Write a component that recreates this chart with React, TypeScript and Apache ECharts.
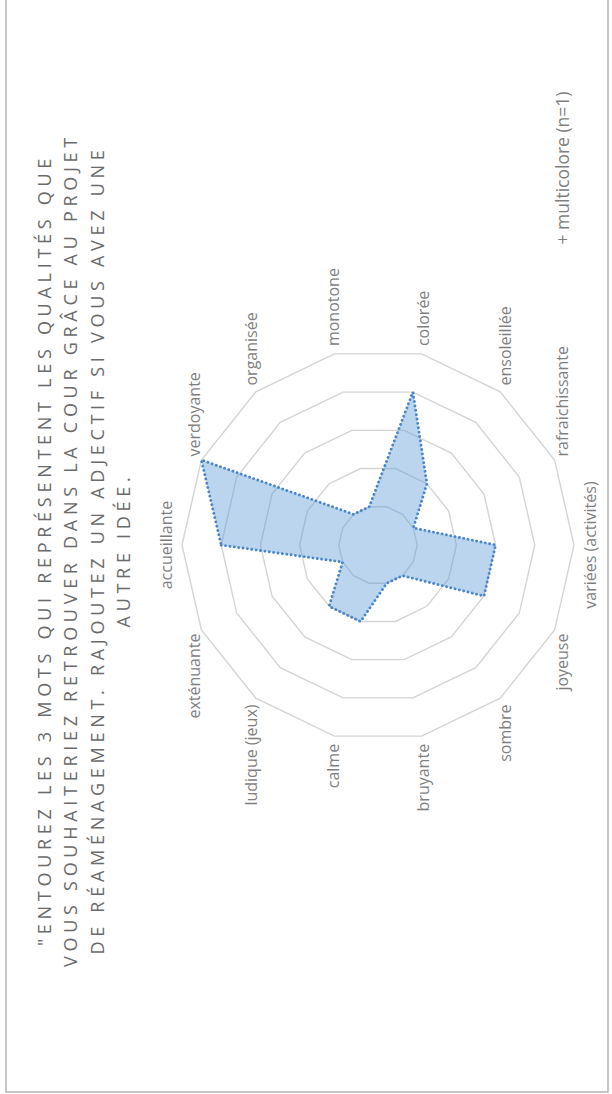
import React, { useEffect, useRef } from "react";
import * as echarts from "echarts";

// Radar categories, listed clockwise from the top axis
const categories = [
  "accueillante",
  "verdoyante",
  "organisée",
  "monotone",
  "colorée",
  "ensoleillée",
  "rafraichissante",
  "variées (activités)",
  "joyeuse",
  "sombre",
  "bruyante",
  "calme",
  "ludique (jeux)",
  "exténuante",
];

// Number of answers per quality
const responses = [4, 5, 1, 1, 4, 2, 1, 3, 3, 1, 1, 2, 2, 1];

const scaleMax = 5;
const ringCount = 5;

const titleLines = [
  '"ENTOUREZ LES 3 MOTS QUI REPRÉSENTENT LES QUALITÉS QUE',
  "VOUS SOUHAITERIEZ RETROUVER DANS LA COUR GRÂCE AU PROJET",
  "DE RÉAMÉNAGEMENT. RAJOUTEZ UN ADJECTIF SI VOUS AVEZ UNE",
  "AUTRE IDÉE.",
];

const noteText = "+ multicolore (n=1)";

// landscape canvas, rotated onto the portrait page
const W = 1094;
const H = 612;

export default function App() {
  const ref = useRef<HTMLDivElement>(null);

  useEffect(() => {
    const el = ref.current;
    if (!el) return;
    const chart = echarts.init(el, null, { renderer: "svg", width: W, height: H });
    const n = categories.length;
    // ECharts places indicators counter-clockwise, so reverse after the first one
    const order = [0, ...Array.from({ length: n - 1 }, (_, i) => n - 1 - i)];

    const titleYs = [44, 70, 97, 123];
    const gray = "#7f7f7f";

    const option: any = {
      animation: false,
      backgroundColor: "#ffffff",
      radar: {
        center: [549, 378],
        radius: 196,
        startAngle: 90,
        shape: "polygon",
        splitNumber: ringCount,
        nameGap: 8,
        indicator: order.map((i) => ({ name: categories[i], min: 0, max: scaleMax })),
        axisName: {
          color: gray,
          fontSize: 16,
          fontFamily: "Open Sans",
        },
        splitLine: { lineStyle: { color: "#d4d4d4", width: 1.4 } },
        splitArea: { show: false },
        axisLine: { show: false },
        axisTick: { show: false },
        axisLabel: { show: false },
      },
      series: [
        {
          type: "radar",
          silent: true,
          symbol: "none",
          data: [{ value: order.map((i) => responses[i]) }],
          lineStyle: { color: "#4582c9", width: 2.9, type: [0.01, 4.4], cap: "round" },
          areaStyle: { color: "rgba(91,155,213,0.6)" },
        },
      ],
      graphic: [
        {
          type: "rect",
          silent: true,
          z: -1,
          shape: { x: 2, y: 6, width: 1200, height: 602 },
          style: { fill: "none", stroke: "#b4b4b4", lineWidth: 1.5 },
        },
        ...titleLines.map((t, i) => ({
          type: "text",
          silent: true,
          x: 544,
          y: titleYs[i],
          style: {
            text: t,
            fill: "#6b6b6b",
            fontSize: 18,
            fontFamily: "Open Sans",
            align: "center",
            verticalAlign: "middle",
          },
        })),
        {
          type: "text",
          silent: true,
          x: 926,
          y: 562,
          style: {
            text: noteText,
            fill: gray,
            fontSize: 17.5,
            fontFamily: "Open Sans",
            align: "center",
            verticalAlign: "middle",
          },
        },
      ],
    };

    chart.setOption(option);

    const applySpacing = () => {
      const texts = Array.from(el.querySelectorAll("text")) as SVGTextElement[];
      const titleEls = texts.filter((t) => titleLines.includes((t.textContent || "").trim()));
      const refEl = titleEls.find((t) => (t.textContent || "").trim() === titleLines[1]);
      if (!refEl) return;
      refEl.removeAttribute("letter-spacing");
      const natural = refEl.getComputedTextLength();
      const ls = (834 - natural) / titleLines[1].length;
      titleEls.forEach((t) => t.setAttribute("letter-spacing", ls.toFixed(2)));
    };
    applySpacing();
    const raf = requestAnimationFrame(applySpacing);

    return () => {
      cancelAnimationFrame(raf);
      chart.dispose();
    };
  }, []);

  return (
    <div
      style={{
        position: "absolute",
        left: 0,
        top: 0,
        width: 612,
        height: 1094,
        overflow: "hidden",
        background: "#ffffff",
      }}
    >
      <div
        ref={ref}
        style={{
          position: "absolute",
          left: 0,
          top: 0,
          width: W,
          height: H,
          transformOrigin: "0 0",
          transform: `translate(0px, ${W}px) rotate(-90deg)`,
        }}
      />
    </div>
  );
}
